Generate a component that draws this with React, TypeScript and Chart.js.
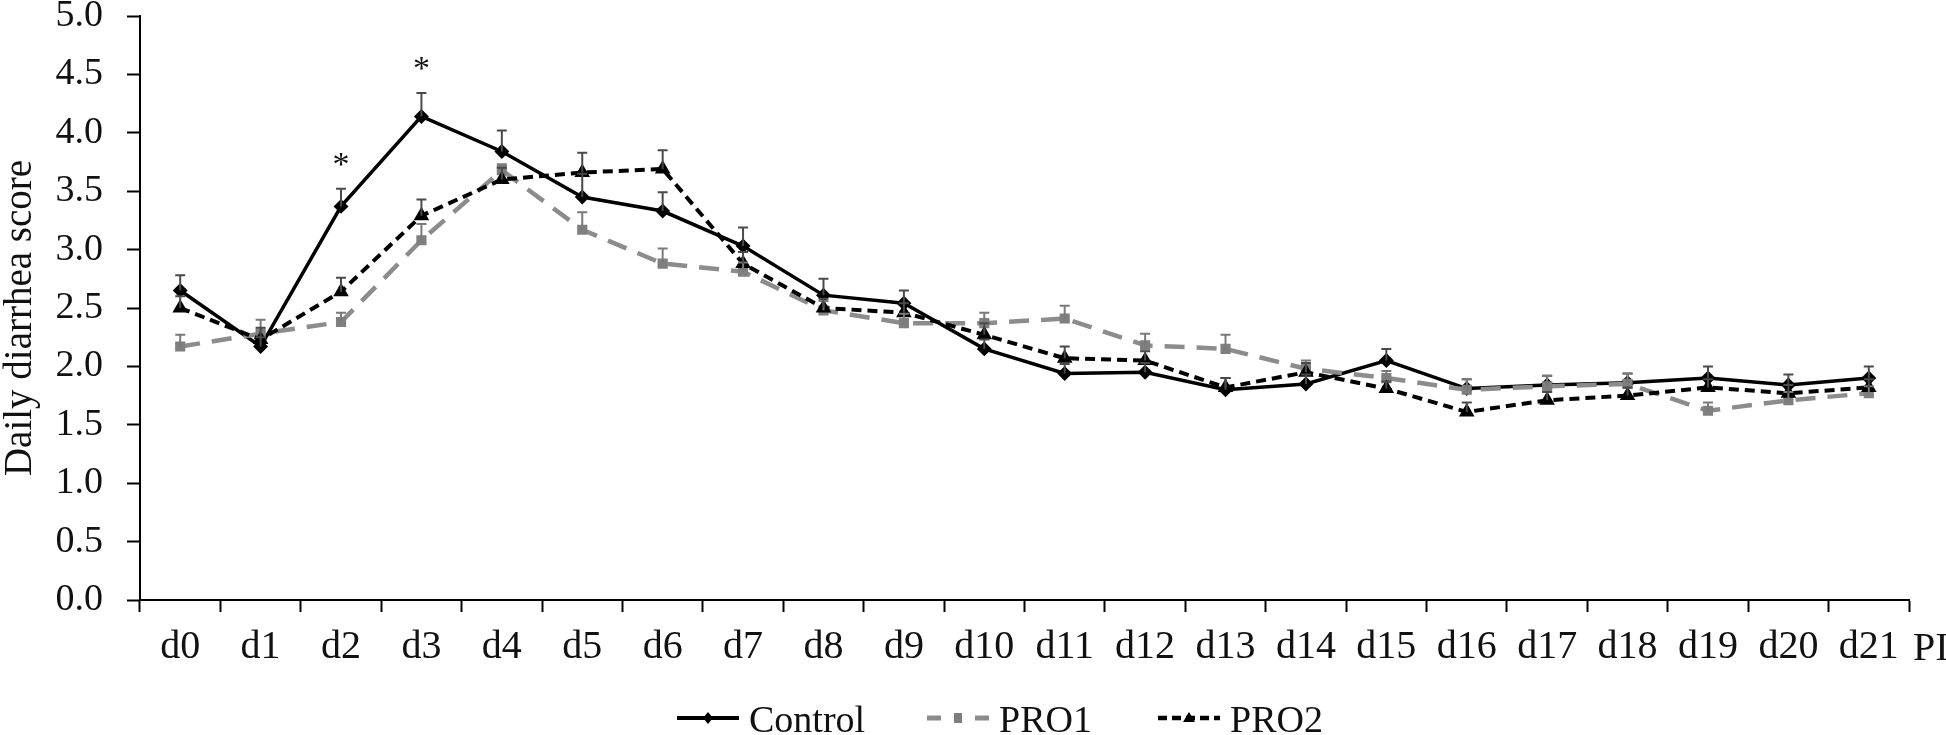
import React, { useEffect, useRef } from 'react';
import { Chart, registerables } from 'chart.js';

Chart.register(...registerables);

const days = ['d0','d1','d2','d3','d4','d5','d6','d7','d8','d9','d10','d11','d12','d13','d14','d15','d16','d17','d18','d19','d20','d21'];
const yTicks = [0, 0.5, 1, 1.5, 2, 2.5, 3, 3.5, 4, 4.5, 5];
const axisSuffix = 'PI';
const yTitle = 'Daily diarrhea score';

const controlMean = [2.65, 2.17, 3.37, 4.14, 3.84, 3.45, 3.33, 3.03, 2.61, 2.54, 2.15, 1.94, 1.95, 1.80, 1.85, 2.05, 1.81, 1.84, 1.86, 1.90, 1.84, 1.90];
const controlSE = [0.13, 0.08, 0.15, 0.20, 0.18, 0.20, 0.16, 0.16, 0.14, 0.11, 0.08, 0.08, 0.08, 0.10, 0.08, 0.10, 0.08, 0.08, 0.08, 0.10, 0.09, 0.10];
const pro1Mean = [2.17, 2.28, 2.38, 3.08, 3.68, 3.17, 2.88, 2.81, 2.48, 2.37, 2.37, 2.41, 2.18, 2.15, 1.98, 1.90, 1.80, 1.83, 1.85, 1.62, 1.71, 1.77];
const pro1SE = [0.10, 0.12, 0.08, 0.14, 0.05, 0.15, 0.13, 0.08, 0.08, 0.08, 0.09, 0.11, 0.10, 0.12, 0.07, 0.06, 0.09, 0.09, 0.09, 0.07, 0.07, 0.06];
const pro2Mean = [2.50, 2.23, 2.64, 3.29, 3.60, 3.66, 3.69, 2.88, 2.50, 2.46, 2.27, 2.07, 2.05, 1.82, 1.95, 1.81, 1.61, 1.71, 1.75, 1.82, 1.77, 1.82];
const pro2SE = [0.10, 0.10, 0.12, 0.14, 0.10, 0.17, 0.16, 0.10, 0.08, 0.08, 0.10, 0.10, 0.08, 0.08, 0.08, 0.06, 0.08, 0.07, 0.07, 0.07, 0.07, 0.07];
const significantDays = [2, 3];

const FONT = "'Liberation Serif', 'Times New Roman', serif";

const errorBarPlugin = {
  id: 'errorBars',
  afterDatasetsDraw(chart: any) {
    const { ctx, scales } = chart;
    const x = scales.x, y = scales.y;
    chart.data.datasets.forEach((ds: any) => {
      const se: number[] = ds.errors;
      ctx.save();
      ctx.strokeStyle = ds.errorColor;
      ctx.lineWidth = 2;
      ctx.setLineDash([]);
      ds.data.forEach((v: number, i: number) => {
        const px = x.getPixelForValue(i);
        const base = y.getPixelForValue(v);
        const top = y.getPixelForValue(v + se[i]);
        ctx.beginPath();
        ctx.moveTo(px, base);
        ctx.lineTo(px, top);
        ctx.moveTo(px - 5, top);
        ctx.lineTo(px + 5, top);
        ctx.stroke();
      });
      ctx.restore();
    });
  },
};

const decorPlugin = {
  id: 'decor',
  afterDraw(chart: any) {
    const { ctx, scales, chartArea } = chart;
    const x = scales.x, y = scales.y;
    ctx.save();
    ctx.fillStyle = '#111';
    ctx.font = `39px ${FONT}`;
    ctx.translate(31, 318);
    ctx.rotate(-Math.PI / 2);
    ctx.textAlign = 'center';
    ctx.textBaseline = 'alphabetic';
    ctx.fillText(yTitle, 0, 0);
    ctx.restore();

    ctx.save();
    ctx.fillStyle = '#111';
    ctx.font = `40px ${FONT}`;
    ctx.textAlign = 'left';
    ctx.textBaseline = 'alphabetic';
    ctx.fillText(axisSuffix, chartArea.right + 4, chartArea.bottom + 60);

    ctx.font = `34px ${FONT}`;
    ctx.textAlign = 'center';
    significantDays.forEach((i) => {
      const px = x.getPixelForValue(i);
      const top = y.getPixelForValue(controlMean[i] + controlSE[i]);
      ctx.fillText('*', px, top - 14);
    });

    const starts = [677, 927, 1158];
    const ly = 718;
    chart.data.datasets.forEach((ds: any, di: number) => {
      const x0 = starts[di];
      const w = 62;
      ctx.save();
      ctx.strokeStyle = ds.borderColor;
      ctx.lineWidth = ds.borderWidth + 0.5;
      ctx.setLineDash(ds.legendDash || []);
      ctx.beginPath();
      ctx.moveTo(x0, ly);
      ctx.lineTo(x0 + w, ly);
      ctx.stroke();
      ctx.setLineDash([]);
      ctx.fillStyle = ds.pointBackgroundColor;
      const cx = x0 + w / 2;
      ctx.beginPath();
      if (ds.pointStyle === 'rectRot') {
        ctx.moveTo(cx, ly - 6); ctx.lineTo(cx + 5, ly); ctx.lineTo(cx, ly + 6); ctx.lineTo(cx - 5, ly);
      } else if (ds.pointStyle === 'rect') {
        ctx.rect(cx - 4, ly - 5, 8, 10);
      } else {
        ctx.moveTo(cx, ly - 6); ctx.lineTo(cx + 6, ly + 4); ctx.lineTo(cx - 6, ly + 4);
      }
      ctx.closePath();
      ctx.fill();
      ctx.restore();
      ctx.fillStyle = '#111';
      ctx.font = `38px ${FONT}`;
      ctx.textAlign = 'left';
      ctx.textBaseline = 'alphabetic';
      ctx.fillText(ds.label, x0 + w + 10, ly + 14);
    });
    ctx.restore();
  },
};

export default function App() {
  const ref = useRef<HTMLCanvasElement>(null);
  useEffect(() => {
    if (!ref.current) return;
    const chart = new Chart(ref.current, {
      type: 'line',
      data: {
        labels: days,
        datasets: [
          {
            label: 'Control',
            data: controlMean,
            errors: controlSE,
            errorColor: '#4a4a4a',
            borderColor: '#000',
            backgroundColor: '#000',
            borderWidth: 3.5,
            pointStyle: 'rectRot',
            pointRadius: 5,
            pointBackgroundColor: '#000',
            pointBorderColor: '#000',
            order: 3,
            tension: 0,
          } as any,
          {
            label: 'PRO1',
            data: pro1Mean,
            errors: pro1SE,
            errorColor: '#7a7a7a',
            borderColor: '#8c8c8c',
            backgroundColor: '#8c8c8c',
            borderWidth: 4.5,
            borderDash: [20, 12],
            legendDash: [14, 34],
            pointStyle: 'rect',
            pointRadius: 4,
            pointBackgroundColor: '#7f7f7f',
            pointBorderColor: '#7f7f7f',
            order: 2,
            tension: 0,
          } as any,
          {
            label: 'PRO2',
            data: pro2Mean,
            errors: pro2SE,
            errorColor: '#4a4a4a',
            borderColor: '#000',
            backgroundColor: '#000',
            borderWidth: 4,
            borderDash: [10, 6],
            legendDash: [9, 5],
            pointStyle: 'triangle',
            pointRadius: 5,
            pointBackgroundColor: '#000',
            pointBorderColor: '#000',
            order: 1,
            tension: 0,
          } as any,
        ],
      },
      options: {
        animation: false,
        responsive: false,
        devicePixelRatio: 1,
        layout: { padding: { top: 16, right: 37, left: 0, bottom: 0 } },
        plugins: {
          legend: { display: false },
          tooltip: { enabled: false },
          title: { display: false },
        },
        scales: {
          x: {
            type: 'category',
            offset: true,
            grid: {
              display: true,
              drawOnChartArea: false,
              drawTicks: true,
              tickLength: 12,
              tickColor: '#000',
              tickWidth: 2,
              offset: true,
            },
            border: { display: true, color: '#000', width: 2 },
            ticks: {
              color: '#111',
              font: { family: FONT, size: 40 },
              padding: 11,
              maxRotation: 0,
              autoSkip: false,
            },
            afterFit(scale: any) {
              scale.height = 135;
              scale.paddingLeft = 0;
              scale.paddingRight = 0;
            },
          },
          y: {
            type: 'linear',
            min: yTicks[0],
            max: yTicks[yTicks.length - 1],
            afterBuildTicks(scale: any) {
              scale.ticks = yTicks.map((v) => ({ value: v }));
            },
            grid: {
              display: true,
              drawOnChartArea: false,
              drawTicks: true,
              tickLength: 13,
              tickColor: '#000',
              tickWidth: 2,
            },
            border: { display: true, color: '#000', width: 2 },
            ticks: {
              color: '#111',
              font: { family: FONT, size: 38 },
              padding: 24,
              callback: (v: any) => Number(v).toFixed(1),
            },
            afterFit(scale: any) {
              scale.width = 140;
              scale.paddingTop = 0;
              scale.paddingBottom = 0;
            },
          },
        },
      },
      plugins: [errorBarPlugin, decorPlugin],
    } as any);
    return () => chart.destroy();
  }, []);
  return (
    <div style={{ position: 'fixed', left: 0, top: 0, width: 1946, height: 735, background: '#fff' }}>
      <canvas ref={ref} width={1946} height={735} style={{ display: 'block' }} />
    </div>
  );
}
